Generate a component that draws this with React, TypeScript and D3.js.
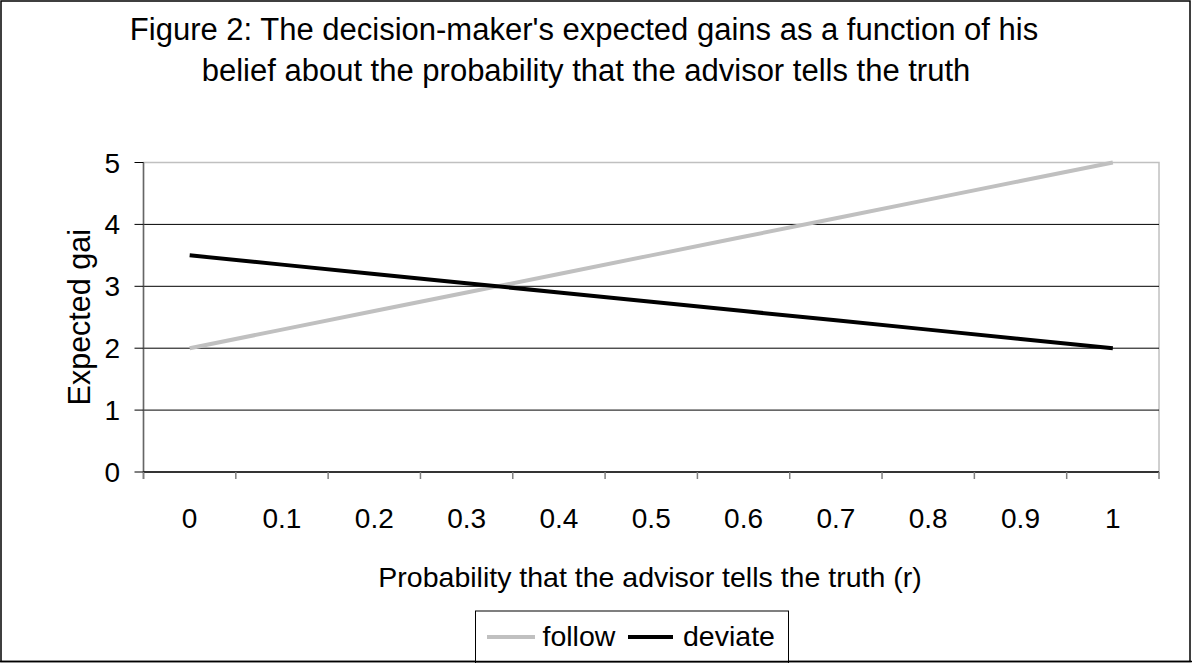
import React from "react";
import * as d3 from "d3";

const categories = ["0", "0.1", "0.2", "0.3", "0.4", "0.5", "0.6", "0.7", "0.8", "0.9", "1"];
const followValues = [2, 2.3, 2.6, 2.9, 3.2, 3.5, 3.8, 4.1, 4.4, 4.7, 5];
const deviateValues = [3.5, 3.35, 3.2, 3.05, 2.9, 2.75, 2.6, 2.45, 2.3, 2.15, 2];
const yTicks = [0, 1, 2, 3, 4, 5];
const titleLines = [
  "Figure 2: The decision-maker's expected gains as a function of his",
  "belief about the probability that the advisor tells the truth",
];
const xTitle = "Probability that the advisor tells the truth (r)";
const yTitle = "Expected gai";
const seriesNames = ["follow", "deviate"];

const W = 1192;
const H = 663;
const FONT = "Liberation Sans, Arial, sans-serif";

export default function App() {
  const left = 143.5;
  const right = 1159;
  const top = 162.5;
  const bottom = 472;

  const x = d3.scaleBand<string>().domain(categories).range([left, right]).padding(0);
  const y = d3.scaleLinear().domain([0, 5]).range([bottom, top]);
  const cx = (c: string) => (x(c) as number) + x.bandwidth() / 2;

  const line = d3
    .line<number>()
    .x((_, i) => cx(categories[i]))
    .y((v) => y(v));

  const edges = categories.map((c) => x(c) as number).concat([right]);

  return (
    <svg
      width={W}
      height={H}
      style={{ position: "absolute", left: 0, top: 0, background: "#fff" }}
      fontFamily={FONT}
    >
      <rect x={0} y={0} width={W} height={H} fill="#fff" />
      {/* outer border */}
      <rect x={1} y={1} width={1189} height={660.5} fill="none" stroke="#000" strokeWidth={1.5} />

      {/* title */}
      <text x={584} y={39.5} fontSize={31} textAnchor="middle" fill="#000">
        {titleLines[0]}
      </text>
      <text x={586} y={81} fontSize={31} textAnchor="middle" fill="#000">
        {titleLines[1]}
      </text>

      {/* plot area border */}
      <rect x={left} y={top} width={right - left} height={bottom - top} fill="none" stroke="#c0c0c0" strokeWidth={1.5} />

      {/* gridlines */}
      {yTicks
        .filter((t) => t > 0 && t < 5)
        .map((t) => (
          <line key={t} x1={left} x2={right} y1={y(t)} y2={y(t)} stroke="#000" strokeWidth={1} />
        ))}

      {/* y axis */}
      <line x1={left} x2={left} y1={top} y2={bottom + 7} stroke="#666" strokeWidth={1.5} />
      {yTicks.map((t) => (
        <g key={t}>
          <line x1={left - 9} x2={left} y1={y(t)} y2={y(t)} stroke="#000" strokeWidth={1} />
          <text x={120} y={y(t)} dy="0.36em" fontSize={28} textAnchor="end" fill="#000">
            {t}
          </text>
        </g>
      ))}

      {/* x axis */}
      <line x1={left} x2={right} y1={bottom} y2={bottom} stroke="#000" strokeWidth={1.5} />
      {edges.map((e, i) => (
        <line key={i} x1={e} x2={e} y1={bottom} y2={bottom + 7} stroke="#808080" strokeWidth={1.5} />
      ))}
      {categories.map((c) => (
        <text key={c} x={cx(c)} y={527.5} fontSize={28} textAnchor="middle" fill="#000">
          {c}
        </text>
      ))}

      {/* axis titles */}
      <text x={650} y={587} fontSize={28.5} textAnchor="middle" fill="#000">
        {xTitle}
      </text>
      <text
        transform={`translate(90,${(top + bottom) / 2}) rotate(-90)`}
        fontSize={30.5}
        textAnchor="middle"
        fill="#000"
      >
        {yTitle}
      </text>

      {/* series */}
      <path d={line(followValues) || ""} fill="none" stroke="#c0c0c0" strokeWidth={4} />
      <path d={line(deviateValues) || ""} fill="none" stroke="#000" strokeWidth={4} />

      {/* legend */}
      <rect x={475.5} y={611} width={313} height={52} fill="#fff" stroke="#000" strokeWidth={1} />
      <line x1={487} x2={535} y1={637} y2={637} stroke="#c0c0c0" strokeWidth={4} />
      <text x={542.5} y={645.5} fontSize={28.5} fill="#000">
        {seriesNames[0]}
      </text>
      <line x1={628} x2={673} y1={637} y2={637} stroke="#000" strokeWidth={4} />
      <text x={683} y={645.5} fontSize={28.5} fill="#000">
        {seriesNames[1]}
      </text>
      <line x1={0} x2={W} y1={661.5} y2={661.5} stroke="#000" strokeWidth={1.5} />
    </svg>
  );
}
